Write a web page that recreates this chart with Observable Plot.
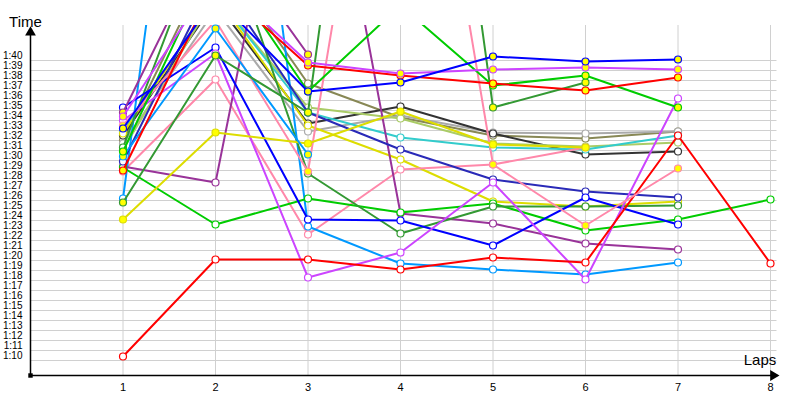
<!DOCTYPE html>
<html><head><meta charset="utf-8">
<script src="https://cdn.jsdelivr.net/npm/d3@7"></script>
<script src="https://cdn.jsdelivr.net/npm/@observablehq/plot@0.6"></script>
<style>body{margin:0;background:#fff} svg{display:block}</style>
</head><body><div id="chart"></div>
<script>
// Lap numbers and y tick values (lap times in seconds, 70 = 1:10)
const laps = [1, 2, 3, 4, 5, 6, 7, 8];
const yTicks = d3.range(70, 101);

// Lap times (seconds) per driver
const B1  = [92.7, 105.8, 96.4, 97.3, 99.9, 99.4, 99.6];
const B2  = [94.8, 100.8, 83.6, 83.5, 81.0, 85.8, 83.1];
const N   = [89.4, 108.0, 94.3, 90.6, 87.6, 86.4, 85.8];
const M1  = [93.9, 107.9, 99.3, 98.2, 98.6, 98.8, 98.6];
const M2  = [93.5, 100.2, 77.8, 80.3, 87.3, 77.6, 95.7];
const R1  = [69.9, 79.6, 79.6, 78.6, 79.8, 79.3, 92.0, 79.2];
const R2  = [88.5, 107.3, 99.0, 98.0, 97.2, 96.5, 97.8];
const G   = [88.8, 83.1, 85.7, 84.3, 85.2, 82.5, 83.6, 85.6];
const G2  = [90.4, 110.0, 96.4, 105.0, 97.0, 98.0, 94.8];
const DG1 = [85.3, 100.0, 94.3, 162.0, 94.8, 97.3];
const DG2 = [90.8, 115.0, 88.2, 82.2, 84.9, 84.9, 85.0];
const P1  = [88.9, 87.3, 133.5, 84.2, 83.2, 81.2, 80.6];
const P2  = [94.3, 113.0, 100.1];
const CB2 = [89.9, 102.7, 90.1];
const CB3 = [85.7, 155.0, 82.9, 79.2, 78.6, 78.1, 79.3];
const PK1 = [88.4, 97.6, 82.1, 88.6, 89.1, 90.8];
const PK2 = [93.0, 103.5, 88.4, 144.0, 89.1, 83.0, 88.7];
const Y2  = [83.6, 92.3, 91.2, 94.4, 91.1, 90.8];
const Y3  = [92.2, 106.0, 93.0, 89.6, 85.4, 84.9, 85.4];
const O   = [91.5, 110.4, 97.2, 93.8, 92.0, 91.7, 92.4];
const GR  = [91.2, 104.6, 92.4, 94.0, 92.3, 92.2, 92.4];
const K   = [92.0, 105.4, 93.2, 94.9, 92.2, 90.1, 90.4];
const YG  = [90.6, 106.0, 94.8, 93.7, 91.2, 90.9, 91.3];
const C   = [92.4, 106.0, 94.3, 91.8, 90.8, 90.6, 92.0];

// Styles (kept separate from values)
const series = [
  ["O", O, "#888855", "#ffffff"],
  ["GR", GR, "#aaaaaa", "#ffffff"],
  ["K", K, "#333333", "#ffffff"],
  ["YG", YG, "#aacc66", "#ffffff"],
  ["C", C, "#33cccc", "#ffffff"],
  ["Y3", Y3, "#dddd00", "#ffffff"],
  ["PK1", PK1, "#ff88aa", "#ffffff"],
  ["CB3", CB3, "#0099ff", "#ffffff"],
  ["P1", P1, "#993399", "#ffffff"],
  ["G", G, "#00cc00", "#ffffff"],
  ["DG2", DG2, "#339933", "#ffffff"],
  ["N", N, "#2a2ab8", "#ffffff"],
  ["B2", B2, "#0000ff", "#ffffff"],
  ["M2", M2, "#cc44ff", "#ffffff"],
  ["R1", R1, "#ff0000", "#ffffff"],
  ["PK2", PK2, "#ff88aa", "#ffff00"],
  ["Y2", Y2, "#dddd00", "#ffff00"],
  ["CB2", CB2, "#0099ff", "#ffff00"],
  ["P2", P2, "#993399", "#ffff00"],
  ["DG1", DG1, "#339933", "#ffff00"],
  ["G2", G2, "#00cc00", "#ffff00"],
  ["R2", R2, "#ff0000", "#ffff00"],
  ["M1", M1, "#cc44ff", "#ffff00"],
  ["B1", B1, "#0000ff", "#ffff00"]
];

const fmt = s => "1:" + String(s - 60).padStart(2, "0");
const font = "Liberation Sans, Arial, sans-serif";

const marks = [
  Plot.ruleY(yTicks.map(s => s - 0.5), {x1: 0, x2: 8.07, stroke: "#d0d0d0", strokeWidth: 1}),
  Plot.ruleX(laps, {y1: 68, y2: 103, stroke: "#d0d0d0", strokeWidth: 1})
];

for (const [id, times, col, fill] of series) {
  const rows = times.map((t, i) => ({lap: laps[i], t}));
  marks.push(Plot.line(rows, {x: "lap", y: "t", stroke: col, strokeWidth: 2, clip: true}));
  marks.push(Plot.dot(rows.filter(d => d.t <= 103.2), {x: "lap", y: "t", r: 3.5, stroke: col, strokeWidth: 1.2, fill}));
}

marks.push(
  Plot.ruleY([68], {x1: 0, x2: 8.08, stroke: "#000", strokeWidth: 1.5}),
  Plot.ruleX([0], {y1: 68, y2: 102.6, stroke: "#000", strokeWidth: 1.5}),
  Plot.dot([0], {x: 0, y: 102.3, symbol: "triangle", r: 4, fill: "#000", stroke: "none"}),
  Plot.dot([0], {x: 8.03, y: 68, symbol: "triangle", r: 4, fill: "#000", stroke: "none", rotate: 90}),
  Plot.dot([0], {x: 0, y: 68, symbol: "square", r: 2.5, fill: "#000", stroke: "none"}),
  Plot.text(["Time"], {frameAnchor: "top-left", dx: -5, dy: -9, fontSize: 15, textAnchor: "middle", fill: "#000"}),
  Plot.text(["Laps"], {frameAnchor: "bottom-right", dx: -29, dy: -11, fontSize: 15, textAnchor: "middle", fill: "#000"})
);

const chart = Plot.plot({
  width: 800,
  height: 400,
  marginLeft: 30,
  marginRight: 11.5,
  marginTop: 25,
  marginBottom: 25,
  style: {fontFamily: font, fontSize: "10px", color: "#000", background: "#fff"},
  x: {domain: [0, 8.2], ticks: laps, tickSize: 0, tickPadding: 8, tickFormat: d => String(d), label: null},
  y: {domain: [68, 103], ticks: yTicks, tickSize: 0, tickPadding: 8, tickFormat: fmt, label: null},
  marks
});
chart.querySelectorAll("[aria-label='x-axis tick label'] text").forEach(t => t.setAttribute("font-size", "11"));
document.getElementById("chart").appendChild(chart);
</script>
</body></html>
